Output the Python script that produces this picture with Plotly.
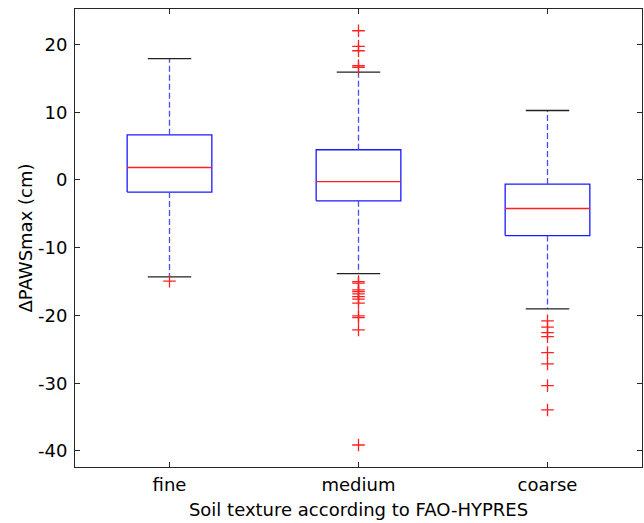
import plotly.graph_objects as go

# Soil texture classes and summary statistics of ΔPAWSmax (cm)
categories = ["fine", "medium", "coarse"]
q1 = [-1.79, -3.08, -8.20]
median = [1.84, -0.23, -4.21]
q3 = [6.67, 4.46, -0.61]
lower_whisker = [-14.3, -13.82, -19.03]
upper_whisker = [17.9, 15.93, 10.26]
outliers = [
    [-14.94],
    [22.03, 19.72, 19.08, 16.86, 16.61,
     -15.0, -15.23, -16.22, -16.47, -16.81, -17.21, -17.6, -18.19,
     -20.06, -20.31, -22.13, -39.12],
    [-20.8, -21.73, -22.53, -23.12, -25.48, -27.15, -30.36, -33.95],
]
y_ticks = [-40, -30, -20, -10, 0, 10, 20]

BOX_HALF = 0.224
CAP_HALF = 0.115
BLUE = "#1a1aff"
WHISKER_BLUE = "#4a4aff"
RED = "#ff2020"
FONT = "DejaVu Sans"

fig = go.Figure()

for i, name in enumerate(categories):
    x = i + 1
    # box outline
    fig.add_trace(go.Scatter(
        x=[x - BOX_HALF, x + BOX_HALF, x + BOX_HALF, x - BOX_HALF, x - BOX_HALF],
        y=[q1[i], q1[i], q3[i], q3[i], q1[i]],
        mode="lines", line=dict(color=BLUE, width=1.3), hoverinfo="skip"))
    # median
    fig.add_trace(go.Scatter(
        x=[x - BOX_HALF, x + BOX_HALF], y=[median[i], median[i]],
        mode="lines", line=dict(color=RED, width=1.3), hoverinfo="skip"))
    # dashed whiskers
    fig.add_trace(go.Scatter(
        x=[x, x, None, x, x],
        y=[q3[i], upper_whisker[i], None, q1[i], lower_whisker[i]],
        mode="lines", line=dict(color=WHISKER_BLUE, width=1.3, dash="6px,3px"),
        hoverinfo="skip"))
    # whisker caps
    fig.add_trace(go.Scatter(
        x=[x - CAP_HALF, x + CAP_HALF, None, x - CAP_HALF, x + CAP_HALF],
        y=[upper_whisker[i], upper_whisker[i], None,
           lower_whisker[i], lower_whisker[i]],
        mode="lines", line=dict(color="#222222", width=1.3), hoverinfo="skip"))
    # outliers
    fig.add_trace(go.Scatter(
        x=[x] * len(outliers[i]), y=outliers[i], mode="markers",
        marker=dict(symbol="cross-thin", size=9,
                    line=dict(color=RED, width=1.3)),
        name=name))

axis_common = dict(
    showgrid=False, zeroline=False, showline=True, linecolor="#262626",
    linewidth=1, mirror="ticks", ticks="inside", ticklen=5,
    tickcolor="#262626", tickfont=dict(family=FONT, size=18, color="black"),
)

fig.update_layout(
    width=644, height=523,
    margin=dict(l=75, r=2, t=9, b=56),
    paper_bgcolor="white", plot_bgcolor="white",
    showlegend=False,
    xaxis=dict(
        range=[0.5, 3.5], tickvals=[1, 2, 3], ticktext=categories,
        ticklabelstandoff=1,
        title=dict(text="Soil texture according to FAO-HYPRES",
                   font=dict(family=FONT, size=18, color="black"), standoff=9),
        **axis_common),
    yaxis=dict(
        range=[-42.37, 25.24], tickvals=y_ticks,
        ticktext=[str(v) for v in y_ticks],
        ticklabelstandoff=3,
        title=dict(text="ΔPAWSmax (cm)",
                   font=dict(family=FONT, size=18, color="black"), standoff=0),
        **axis_common),
)

fig.write_html("out.html")
